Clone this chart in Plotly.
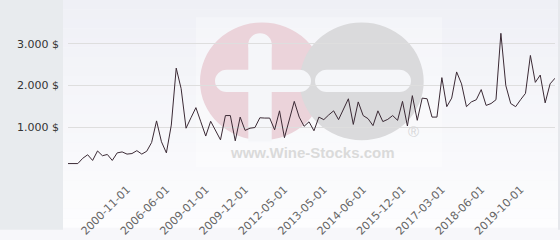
import plotly.graph_objects as go

# ---- data -------------------------------------------------------------
values = [
    130, 130, 130, 257, 341, 205, 432, 318, 348, 205,
    386, 409, 357, 370, 439, 357, 425, 636, 1152, 652,
    386, 1052, 2416, 1925, 977, 1227, 1470, 1130, 789, 1143,
    920, 698, 1280, 1280, 675, 1243, 925, 977, 993, 1227,
    1220, 1220, 939, 1393, 750, 1180, 1620, 1243, 1023, 1130,
    916, 1243, 1182, 1295, 1393, 1182, 1432, 1682, 1068, 1607,
    1280, 1205, 1039, 1393, 1136, 1189, 1280, 1166, 1620, 1030,
    1757, 1166, 1698, 1682, 1243, 1243, 2189, 1493, 1698, 2325,
    2039, 1493, 1607, 1659, 1902, 1523, 1568, 1659, 3250, 2000,
    1568, 1493, 1659, 1811, 2720, 2075, 2250, 1584, 2039, 2175,
]
x_index = list(range(len(values)))

x_tick_labels = [
    "2000-11-01", "2006-06-01", "2009-01-01", "2009-12-01", "2012-05-01",
    "2013-05-01", "2014-06-01", "2015-12-01", "2017-03-01", "2018-06-01",
    "2019-10-01",
]
x_tick_positions = [12, 20, 28, 36, 44, 52, 60, 68, 76, 84, 92]

y_tick_values = [0, 1000, 2000, 3000]
y_tick_labels = ["", "1.000 $", "2.000 $", "3.000 $"]

# ---- geometry helpers (pixels -> paper) -------------------------------
W_FIG, H_FIG = 560, 240
L, R, T, B = 68, 555, 2, 178
PW, PH = R - L, B - T
K = 0.5523


def px(p):
    return (p - L) / PW


def py(p):
    return (B - p) / PH


def pt(x, y):
    return "%.5f,%.5f" % (px(x), py(y))


shapes = []

# background vertical gradient of the main panel
top_col = (239, 240, 246)
bot_col = (253, 253, 254)
nb = 24
for k in range(nb):
    y0p = k * H_FIG / nb
    y1p = (k + 1) * H_FIG / nb
    t = (k + 0.5) / nb
    c = tuple(round(top_col[j] + (bot_col[j] - top_col[j]) * t) for j in range(3))
    shapes.append(dict(type="rect", xref="paper", yref="paper", layer="below",
                       x0=px(63), x1=px(558), y0=py(y1p), y1=py(y0p),
                       fillcolor="rgb(%d,%d,%d)" % c, line=dict(width=0)))

# left grey panel
shapes.append(dict(type="rect", xref="paper", yref="paper", layer="below",
                   x0=px(0), x1=px(63), y0=py(H_FIG + 2), y1=py(-2),
                   fillcolor="#e8ebee", line=dict(width=0)))
# right thin border
shapes.append(dict(type="rect", xref="paper", yref="paper", layer="below",
                   x0=px(558), x1=px(561), y0=py(H_FIG + 2), y1=py(-2),
                   fillcolor="#e6e8ec", line=dict(width=0)))

# watermark: faint white box
shapes.append(dict(type="rect", xref="paper", yref="paper", layer="below",
                   x0=px(196), x1=px(442), y0=py(176), y1=py(18),
                   fillcolor="rgba(255,255,255,0.3)", line=dict(width=0)))


def circle(cx, cy, r, color):
    shapes.append(dict(type="circle", xref="paper", yref="paper", layer="below",
                       x0=px(cx - r), x1=px(cx + r), y0=py(cy + r), y1=py(cy - r),
                       fillcolor=color, line=dict(width=0)))


def rect(x0, x1, y0, y1, color):
    shapes.append(dict(type="rect", xref="paper", yref="paper", layer="below",
                       x0=px(x0), x1=px(x1), y0=py(y1), y1=py(y0),
                       fillcolor=color, line=dict(width=0)))


def path(d, color):
    shapes.append(dict(type="path", xref="paper", yref="paper", layer="below",
                       path=d, fillcolor=color, line=dict(width=0)))


def hbar(x0, x1, cy, h, color):
    r = h / 2
    a, b = x0 + r, x1 - r
    d = ("M " + pt(a, cy - r) + " L " + pt(b, cy - r) +
         " C " + pt(b + K * r, cy - r) + " " + pt(x1, cy - K * r) + " " + pt(x1, cy) +
         " C " + pt(x1, cy + K * r) + " " + pt(b + K * r, cy + r) + " " + pt(b, cy + r) +
         " L " + pt(a, cy + r) +
         " C " + pt(a - K * r, cy + r) + " " + pt(x0, cy + K * r) + " " + pt(x0, cy) +
         " C " + pt(x0, cy - K * r) + " " + pt(a - K * r, cy - r) + " " + pt(a, cy - r) +
         " Z")
    path(d, color)


HOLE = "#f5f6f9"
circle(262, 85.7, 62, "#ebd3da")
circle(361.7, 85.7, 62, "#dadadc")
# plus sign: vertical bar with round top cap
rect(248.3, 271.7, 46.7, 149, HOLE)
circle(260, 46.7, 11.7, HOLE)
hbar(215, 311, 85.2, 23.4, HOLE)
# minus sign
hbar(315, 411, 85.2, 23.4, HOLE)

annotations = [
    dict(text="<b>www.Wine-Stocks.com</b>", xref="paper", yref="paper",
         x=px(312), y=py(161), xanchor="center", yanchor="middle", showarrow=False,
         font=dict(family="Liberation Sans, Arial, sans-serif", size=15, color="#dadada")),
    dict(text="®", xref="paper", yref="paper", x=px(413), y=py(139),
         xanchor="center", yanchor="middle", showarrow=False,
         font=dict(family="Liberation Sans, Arial, sans-serif", size=15, color="#d6d6d8")),
]

fig = go.Figure()
fig.add_trace(go.Scatter(
    x=x_index, y=values, mode="lines",
    line=dict(color="#3b2a35", width=1),
    hoverinfo="skip", showlegend=False,
))

fig.update_layout(
    width=W_FIG, height=H_FIG,
    margin=dict(l=L, r=W_FIG - R, t=T, b=H_FIG - B),
    paper_bgcolor="#f7f7fa",
    plot_bgcolor="rgba(0,0,0,0)",
    shapes=shapes,
    annotations=annotations,
    font=dict(family="DejaVu Sans, sans-serif", size=11),
    xaxis=dict(
        range=[0, len(values) - 1],
        tickmode="array", tickvals=x_tick_positions, ticktext=x_tick_labels,
        tickangle=-45, showgrid=False, zeroline=False, showline=False,
        ticks="", tickfont=dict(color="#666666", size=11),
        ticklabelstandoff=11,
    ),
    yaxis=dict(
        range=[0, 4000],
        tickmode="array", tickvals=y_tick_values, ticktext=y_tick_labels,
        showgrid=True, gridcolor="#dedede", gridwidth=1,
        zeroline=False, showline=False, ticks="",
        tickfont=dict(color="#333333", size=11),
        ticklabelstandoff=8,
    ),
)

fig.write_html("out.html")
